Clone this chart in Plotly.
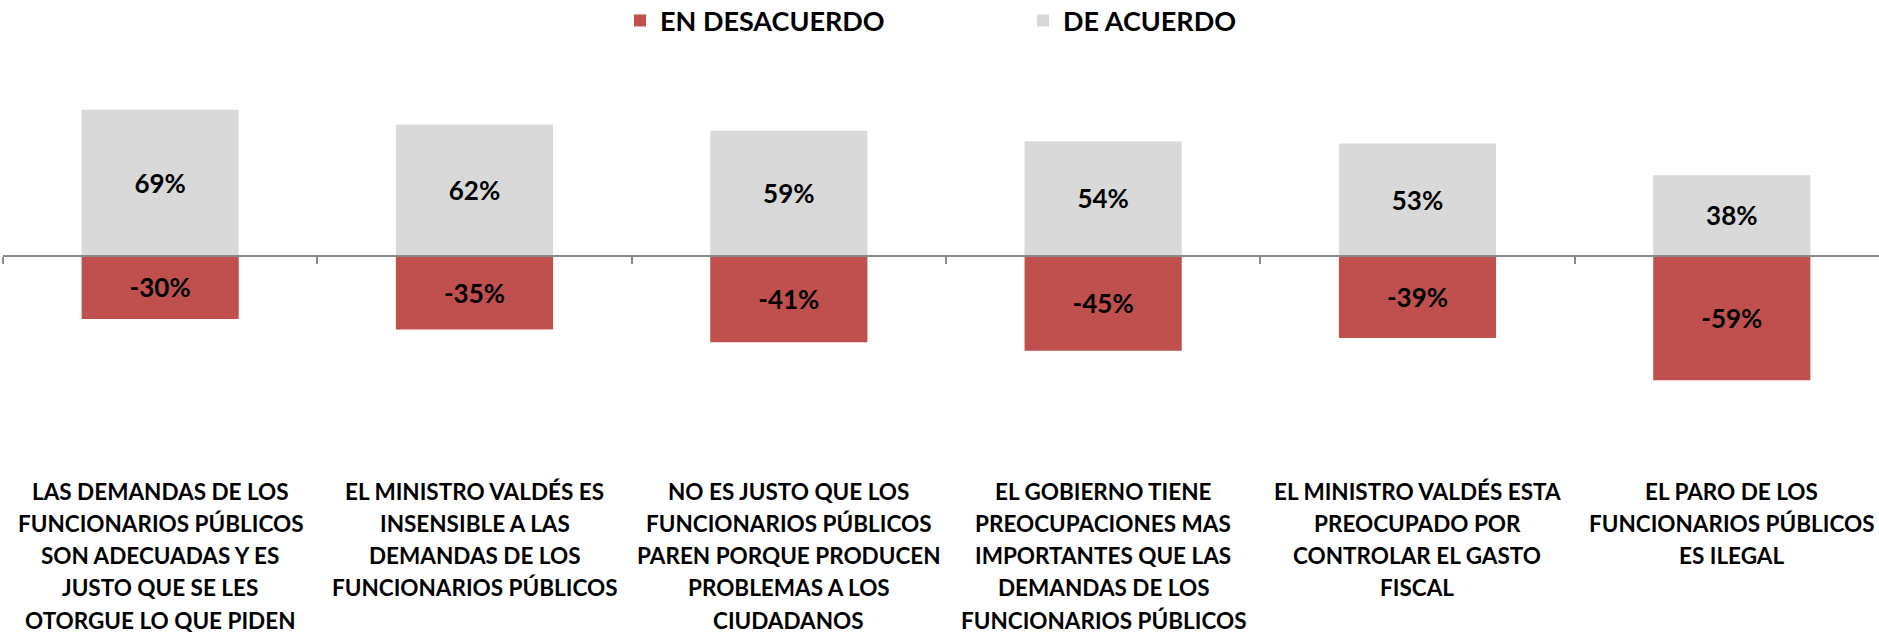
import plotly.graph_objects as go

categories = [
    "LAS DEMANDAS DE LOS<br>FUNCIONARIOS PÚBLICOS<br>SON ADECUADAS Y ES<br>JUSTO QUE SE LES<br>OTORGUE LO QUE PIDEN",
    "EL MINISTRO VALDÉS ES<br>INSENSIBLE A LAS<br>DEMANDAS DE LOS<br>FUNCIONARIOS PÚBLICOS",
    "NO ES JUSTO QUE LOS<br>FUNCIONARIOS PÚBLICOS<br>PAREN PORQUE PRODUCEN<br>PROBLEMAS A LOS<br>CIUDADANOS",
    "EL GOBIERNO TIENE<br>PREOCUPACIONES MAS<br>IMPORTANTES QUE LAS<br>DEMANDAS DE LOS<br>FUNCIONARIOS PÚBLICOS",
    "EL MINISTRO VALDÉS ESTA<br>PREOCUPADO POR<br>CONTROLAR EL GASTO<br>FISCAL",
    "EL PARO DE LOS<br>FUNCIONARIOS PÚBLICOS<br>ES ILEGAL",
]
en_desacuerdo = [-30, -35, -41, -45, -39, -59]
de_acuerdo = [69, 62, 59, 54, 53, 38]

RED = "#C0504D"
GRAY = "#D9D9D9"
AXIS = "#898989"
FONT = "Lato"

W, H = 1879, 635
L, R, T, B = 3, 0, 61, 168
YMIN, YMAX = -100, 92
CAT_W = 314.33
x_hi = -0.5 + (W - L - R) / CAT_W

fig = go.Figure()
fig.add_trace(go.Bar(
    name="EN DESACUERDO", x=categories, y=en_desacuerdo,
    marker=dict(color=RED, line=dict(width=0)),
    text=[f"{v}%" for v in en_desacuerdo], textposition="inside",
    insidetextanchor="middle", textangle=0, constraintext="none",
    textfont=dict(family=FONT, size=26, color="black", weight="bold"),
))
fig.add_trace(go.Bar(
    name="DE ACUERDO", x=categories, y=de_acuerdo,
    marker=dict(color=GRAY, line=dict(width=0)),
    text=[f"{v}%" for v in de_acuerdo], textposition="inside",
    insidetextanchor="middle", textangle=0, constraintext="none",
    textfont=dict(family=FONT, size=26, color="black", weight="bold"),
))

# category labels, one annotation per line
first_shift = -24
line_gap = 32.3
for c in categories:
    for i, line in enumerate(c.split("<br>")):
        fig.add_annotation(
            x=c, xref="x", y=0, yref="paper", yanchor="middle", xanchor="center",
            yshift=first_shift - line_gap * i, text=line, showarrow=False,
            borderpad=0,
            font=dict(family=FONT, size=22.5, color="black", weight="bold"),
        )

zero_pos = (0 - YMIN) / (YMAX - YMIN)

fig.update_layout(
    width=W, height=H,
    margin=dict(l=L, r=R, t=T, b=B, autoexpand=False),
    paper_bgcolor="white", plot_bgcolor="white",
    barmode="relative", bargap=0.5,
    font=dict(family=FONT, color="black"),
    xaxis=dict(type="category", range=[-0.5, x_hi], showticklabels=False,
               anchor="free", position=zero_pos,
               showline=True, linecolor=AXIS, linewidth=2,
               ticks="outside", ticklen=7, tickwidth=1.5, tickcolor=AXIS,
               tickson="boundaries", showgrid=False, zeroline=False,
               layer="above traces"),
    yaxis=dict(range=[YMIN, YMAX], visible=False, showgrid=False, zeroline=False),
    showlegend=True,
    legend=dict(orientation="h", xref="container", yref="container",
                x=620 / W, xanchor="left", y=1 - 21 / H, yanchor="middle",
                entrywidth=358, entrywidthmode="pixels", traceorder="normal",
                font=dict(family=FONT, size=27, color="black", weight="bold"),
                bgcolor="rgba(0,0,0,0)"),
)

fig.write_html("out.html", config={"displayModeBar": False},
               post_script="document.body.style.margin='0';document.body.style.overflow='hidden';")
